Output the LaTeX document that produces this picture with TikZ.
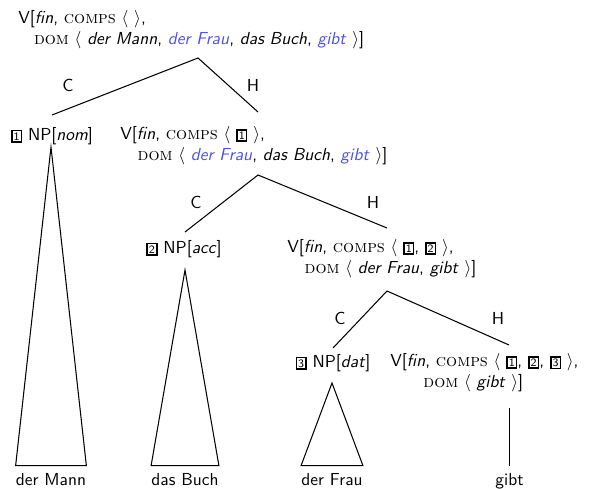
\documentclass[tikz,border=0pt]{standalone}
\usepackage{xcolor}
\usepackage{tikz}
\usetikzlibrary{positioning}
\definecolor{DomBlue}{RGB}{80,80,230}
\newcommand{\feat}[1]{\textrm{\textsc{#1}}}
\newcommand{\domhl}[1]{\textcolor{DomBlue}{#1}}
\newcommand{\tagbox}[1]{{\setlength{\fboxsep}{0.6pt}\setlength{\fboxrule}{0.9pt}\fbox{\fontsize{6.5}{7}\selectfont #1}}}

\begin{document}
\begin{tikzpicture}[
  x=0.575pt,y=-0.575pt,
  sign/.style={align=left,anchor=north west,inner sep=0pt,font=\sffamily},
  cat/.style={anchor=base,inner sep=0pt,font=\sffamily},
  leaf/.style={anchor=base,inner xsep=0pt,inner ysep=4pt,font=\sffamily},
  lab/.style={inner sep=0pt,font=\sffamily},
  branch/.style={line width=0.6pt,color=black}
]
\useasboundingbox (0,0) rectangle (602,488);

% signs
\node[sign] (root) at (18,10) {V[\textit{fin}, \feat{comps} $\langle$ $\rangle$,\\
  \hspace*{0.9em}\feat{dom} $\langle$ \textit{der Mann}, \domhl{\textit{der Frau}}, \textit{das Buch}, \domhl{\textit{gibt}} $\rangle$]};
\node[cat] (np1) at (52,140) {\tagbox{1} NP[\textit{nom}]};
\node[sign] (v2) at (120,126) {V[\textit{fin}, \feat{comps} $\langle$ \tagbox{1} $\rangle$,\\
  \hspace*{1em}\feat{dom} $\langle$ \domhl{\textit{der Frau}}, \textit{das Buch}, \domhl{\textit{gibt}} $\rangle$]};
\node[cat] (np2) at (184,253) {\tagbox{2} NP[\textit{acc}]};
\node[sign] (v3) at (287,239) {V[\textit{fin}, \feat{comps} $\langle$ \tagbox{1}, \tagbox{2} $\rangle$,\\
  \hspace*{1em}\feat{dom} $\langle$ \textit{der Frau}, \textit{gibt} $\rangle$]};
\node[cat] (np3) at (333,367) {\tagbox{3} NP[\textit{dat}]};
\node[sign] (v4) at (390,353) {V[\textit{fin}, \feat{comps} $\langle$ \tagbox{1}, \tagbox{2}, \tagbox{3} $\rangle$,\\
  \hspace*{1.9em}\feat{dom} $\langle$ \textit{gibt} $\rangle$]};

% words
\node[leaf] (mann) at (51,485) {der Mann};
\node[leaf] (buch) at (185,485) {das Buch};
\node[leaf] (frau) at (332,485) {der Frau};
\node[leaf] (gibt) at (509.5,485) {gibt};

% branch points
\coordinate (a0) at (198,58);
\coordinate (np1top) at (52,115);
\coordinate (v2top) at (258,112);
\coordinate (a1) at (258,175);
\coordinate (np2top) at (185,232);
\coordinate (v3top) at (387,228);
\coordinate (a2) at (387,291);
\coordinate (np3top) at (333,348);
\coordinate (v4top) at (509,345);
\coordinate (v4bot) at (509.5,408);
\coordinate (t1) at (51,147);
\coordinate (t2) at (185,270);
\coordinate (t3) at (332,383);

% labels
\node[lab] (c0) at (68,85) {C};
\node[lab] (h0) at (253,85) {H};
\node[lab] (c1) at (196,202) {C};
\node[lab] (h1) at (373,202) {H};
\node[lab] (c2) at (340,318) {C};
\node[lab] (h2) at (498,318) {H};

\draw[branch] (np1top) -- (a0) -- (v2top);
\draw[branch] (np2top) -- (a1) -- (v3top);
\draw[branch] (np3top) -- (a2) -- (v4top);
\draw[branch] (t1) -- (mann.north west) -- (mann.north east) -- cycle;
\draw[branch] (t2) -- (buch.north west) -- (buch.north east) -- cycle;
\draw[branch] (t3) -- (frau.north west) -- (frau.north east) -- cycle;
\draw[branch] (v4bot) -- (gibt.north);
\end{tikzpicture}
\end{document}
